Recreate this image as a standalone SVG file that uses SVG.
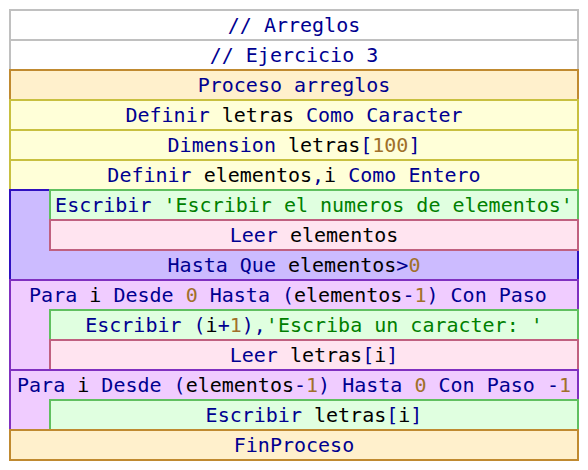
<svg xmlns="http://www.w3.org/2000/svg" width="588" height="470" viewBox="0 0 588 470">
<style>
text{font-family:"DejaVu Sans Mono","Liberation Mono",monospace;font-size:20px;fill:#000090;text-anchor:middle}
.id{fill:#000000}
.num{fill:#a0702a}
.str{fill:#008000}
.cm{fill:#ffffff;stroke:#c0c0c0;stroke-width:2}
.pr{fill:#fff0cc;stroke:#c08a30;stroke-width:2}
.df{fill:#ffffd8;stroke:#c8c040;stroke-width:2}
.rp{fill:#ccbbff;stroke:#3010c0;stroke-width:2}
.es{fill:#e0ffe0;stroke:#60c060;stroke-width:2}
.le{fill:#ffe4f0;stroke:#c06080;stroke-width:2}
.pa{fill:#f0ccff;stroke:#8030c0;stroke-width:2}
</style>
<rect width="588" height="470" fill="#ffffff"/>
<g id="c1"><rect class="cm" x="10" y="10" width="568" height="30"/><text x="294" y="32">// Arreglos</text></g>
<g id="c2"><rect class="cm" x="10" y="40" width="568" height="30"/><text x="294" y="62">// Ejercicio 3</text></g>
<g id="proceso"><rect class="pr" x="10" y="70" width="568" height="30"/><text x="294" y="92">Proceso arreglos</text></g>
<g id="def1"><rect class="df" x="10" y="100" width="568" height="30"/><text x="294" y="122">Definir <tspan class="id">letras</tspan> Como Caracter</text></g>
<g id="dim"><rect class="df" x="10" y="130" width="568" height="30"/><text x="294" y="152">Dimension <tspan class="id">letras</tspan>[<tspan class="num">100</tspan>]</text></g>
<g id="def2"><rect class="df" x="10" y="160" width="568" height="30"/><text x="294" y="182">Definir <tspan class="id">elementos</tspan>,<tspan class="id">i</tspan> Como Entero</text></g>
<g id="repetir">
<rect class="rp" x="10" y="190" width="568" height="90"/>
<g id="esc1"><rect class="es" x="50" y="190" width="528" height="30"/><text x="314" y="212">Escribir <tspan class="str">'Escribir el numeros de elementos'</tspan></text></g>
<g id="leer1"><rect class="le" x="50" y="220" width="528" height="30"/><text x="314" y="242">Leer <tspan class="id">elementos</tspan></text></g>
<text x="294" y="272">Hasta Que <tspan class="id">elementos</tspan>&gt;<tspan class="num">0</tspan></text>
</g>
<g id="para1">
<rect class="pa" x="10" y="280" width="568" height="90"/>
<text x="288" y="302">Para <tspan class="id">i</tspan> Desde <tspan class="num">0</tspan> Hasta (<tspan class="id">elementos</tspan>-<tspan class="num">1</tspan>) Con Paso</text>
<g id="esc2"><rect class="es" x="50" y="310" width="528" height="30"/><text x="314" y="332">Escribir (<tspan class="id">i</tspan>+<tspan class="num">1</tspan>),<tspan class="str">'Escriba un caracter: '</tspan></text></g>
<g id="leer2"><rect class="le" x="50" y="340" width="528" height="30"/><text x="314" y="362">Leer <tspan class="id">letras</tspan>[<tspan class="id">i</tspan>]</text></g>
</g>
<g id="para2">
<rect class="pa" x="10" y="370" width="568" height="60"/>
<text x="294" y="392">Para <tspan class="id">i</tspan> Desde (<tspan class="id">elementos</tspan>-<tspan class="num">1</tspan>) Hasta <tspan class="num">0</tspan> Con Paso -<tspan class="num">1</tspan></text>
<g id="esc3"><rect class="es" x="50" y="400" width="528" height="30"/><text x="314" y="422">Escribir <tspan class="id">letras</tspan>[<tspan class="id">i</tspan>]</text></g>
</g>
<g id="fin"><rect class="pr" x="10" y="430" width="568" height="30"/><text x="294" y="452">FinProceso</text></g>
<g id="connectors"></g>
</svg>
